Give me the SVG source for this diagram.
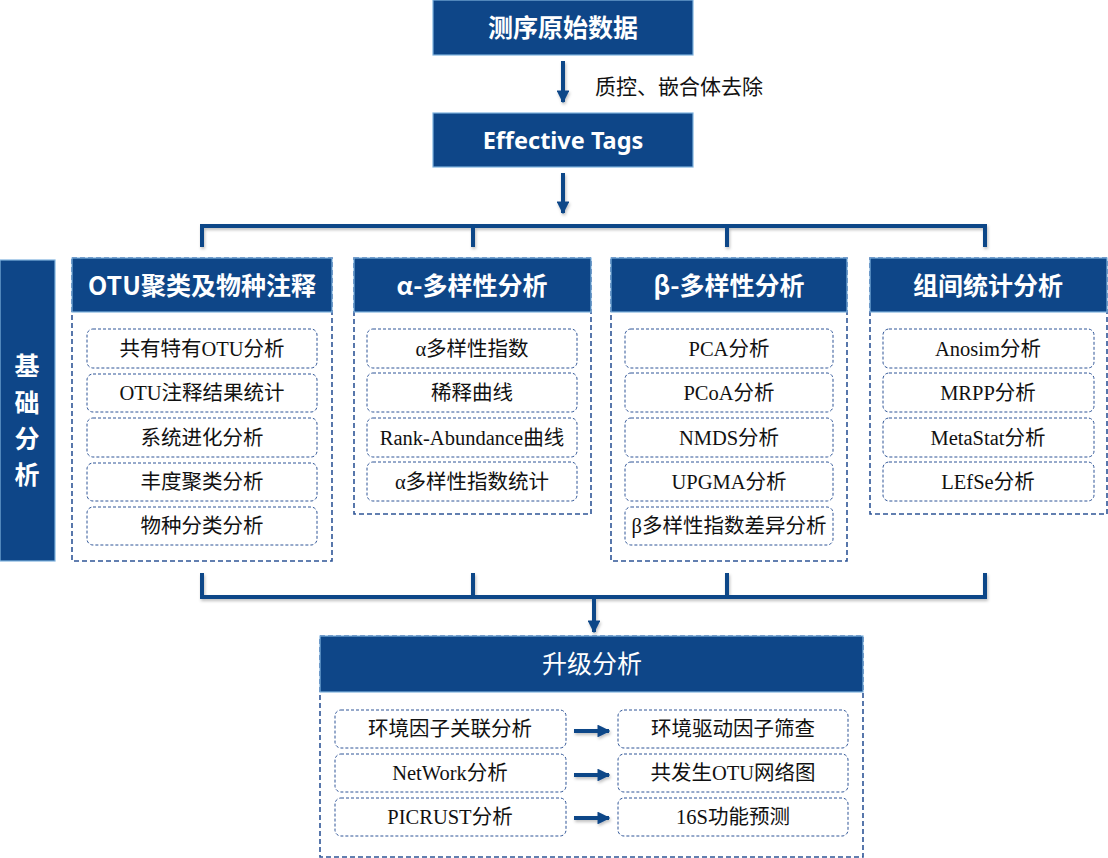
<svg xmlns="http://www.w3.org/2000/svg" width="1108" height="858" viewBox="0 0 1108 858">
<defs>
<style>
.hdr{fill:#0E4688;stroke:#7FB2DE;stroke-width:1.2}
.grp{fill:#fff;stroke:#2F5597;stroke-width:1.6;stroke-dasharray:5 3}
.item{fill:#fff;stroke:#2F5597;stroke-width:1;stroke-dasharray:3 2}
.ht{font-family:"Noto Sans CJK SC","Noto Sans",sans-serif;font-weight:700;font-size:25px;fill:#fff;text-anchor:middle}
.it{font-family:"Liberation Serif","Noto Sans CJK SC",serif;font-size:20.5px;fill:#111;text-anchor:middle}
.ln{stroke:#0E4688;stroke-width:4;fill:none}
.lbl{font-family:"Noto Sans CJK SC",sans-serif;font-size:21px;fill:#111}
</style>
<marker id="ah" viewBox="0 0 10 10" refX="9" refY="5" markerWidth="3.2" markerHeight="3.2" orient="auto" markerUnits="strokeWidth">
<path d="M0,0 L10,5 L0,10 z" fill="#0E4688"/>
</marker>
<filter id="sh" x="-5%" y="-20%" width="110%" height="160%">
<feDropShadow dx="1" dy="2" stdDeviation="1.5" flood-color="#000" flood-opacity="0.25"/>
</filter>
</defs>
<rect width="1108" height="858" fill="#fff"/>

<g id="raw">
<rect class="hdr" x="433" y="0" width="260" height="55"/>
<text class="ht" x="563" y="37">测序原始数据</text>
</g>
<g id="tags">
<rect class="hdr" x="433" y="113" width="260" height="54"/>
<text class="ht" x="563" y="149" style="font-family:'Noto Sans',sans-serif;font-size:23.5px">Effective Tags</text>
</g>

<g id="basic">
<rect class="hdr" x="0" y="260" width="55" height="301"/>
<text class="ht" x="27" y="375">基</text>
<text class="ht" x="27" y="412">础</text>
<text class="ht" x="27" y="448">分</text>
<text class="ht" x="27" y="484">析</text>
</g>

<g id="otu">
<rect class="grp" x="72" y="258" width="260" height="303"/>
<rect class="hdr" x="72" y="258" width="260" height="54"/>
<text class="ht" x="202" y="295">OTU聚类及物种注释</text>
<rect class="item" x="87" y="329" width="230" height="39" rx="6"/>
<text class="it" x="202" y="356">共有特有OTU分析</text>
<rect class="item" x="87" y="374" width="230" height="38" rx="6"/>
<text class="it" x="202" y="400">OTU注释结果统计</text>
<rect class="item" x="87" y="418" width="230" height="39" rx="6"/>
<text class="it" x="202" y="445">系统进化分析</text>
<rect class="item" x="87" y="463" width="230" height="38" rx="6"/>
<text class="it" x="202" y="489">丰度聚类分析</text>
<rect class="item" x="87" y="507" width="230" height="38" rx="6"/>
<text class="it" x="202" y="533">物种分类分析</text>
</g>

<g id="alpha">
<rect class="grp" x="354" y="258" width="237" height="256"/>
<rect class="hdr" x="354" y="258" width="237" height="54"/>
<text class="ht" x="472" y="295">α-多样性分析</text>
<rect class="item" x="367" y="329" width="210" height="39" rx="6"/>
<text class="it" x="472" y="356">α多样性指数</text>
<rect class="item" x="367" y="373" width="210" height="39" rx="6"/>
<text class="it" x="472" y="400">稀释曲线</text>
<rect class="item" x="367" y="418" width="210" height="39" rx="6"/>
<text class="it" x="472" y="445">Rank-Abundance曲线</text>
<rect class="item" x="367" y="462" width="210" height="39" rx="6"/>
<text class="it" x="472" y="489">α多样性指数统计</text>
</g>

<g id="beta">
<rect class="grp" x="611" y="258" width="236" height="303"/>
<rect class="hdr" x="611" y="258" width="236" height="54"/>
<text class="ht" x="729" y="295">β-多样性分析</text>
<rect class="item" x="625" y="329" width="208" height="39" rx="6"/>
<text class="it" x="729" y="356">PCA分析</text>
<rect class="item" x="625" y="373" width="208" height="39" rx="6"/>
<text class="it" x="729" y="400">PCoA分析</text>
<rect class="item" x="625" y="418" width="208" height="39" rx="6"/>
<text class="it" x="729" y="445">NMDS分析</text>
<rect class="item" x="625" y="462" width="208" height="39" rx="6"/>
<text class="it" x="729" y="489">UPGMA分析</text>
<rect class="item" x="625" y="507" width="208" height="38" rx="6"/>
<text class="it" x="729" y="533">β多样性指数差异分析</text>
</g>

<g id="stat">
<rect class="grp" x="870" y="258" width="237" height="256"/>
<rect class="hdr" x="870" y="258" width="237" height="54"/>
<text class="ht" x="988" y="295">组间统计分析</text>
<rect class="item" x="883" y="329" width="211" height="39" rx="6"/>
<text class="it" x="988" y="356">Anosim分析</text>
<rect class="item" x="883" y="373" width="211" height="39" rx="6"/>
<text class="it" x="988" y="400">MRPP分析</text>
<rect class="item" x="883" y="418" width="211" height="39" rx="6"/>
<text class="it" x="988" y="445">MetaStat分析</text>
<rect class="item" x="883" y="462" width="211" height="39" rx="6"/>
<text class="it" x="988" y="489">LEfSe分析</text>
</g>

<g id="upgrade">
<rect class="grp" x="320" y="636" width="543" height="221"/>
<rect class="hdr" x="320" y="636" width="543" height="56"/>
<text class="ht" x="592" y="673" style="font-weight:400">升级分析</text>
<rect class="item" x="335" y="710" width="231" height="38" rx="6"/>
<text class="it" x="450" y="736">环境因子关联分析</text>
<rect class="item" x="618" y="710" width="230" height="38" rx="6"/>
<text class="it" x="733" y="736">环境驱动因子筛查</text>
<rect class="item" x="335" y="754" width="231" height="38" rx="6"/>
<text class="it" x="450" y="780">NetWork分析</text>
<rect class="item" x="618" y="754" width="230" height="38" rx="6"/>
<text class="it" x="733" y="780">共发生OTU网络图</text>
<rect class="item" x="335" y="798" width="231" height="38" rx="6"/>
<text class="it" x="450" y="824">PICRUST分析</text>
<rect class="item" x="618" y="798" width="230" height="38" rx="6"/>
<text class="it" x="733" y="824">16S功能预测</text>
</g>

<g id="connectors" filter="url(#sh)">
<line class="ln" x1="563" y1="61" x2="563" y2="102" marker-end="url(#ah)"/>
<line class="ln" x1="563" y1="173" x2="563" y2="213" marker-end="url(#ah)"/>
<path class="ln" d="M202,247 V226 H985 V247 M473,226 V247 M727,226 V247"/>
<path class="ln" d="M202,573 V597 H985 V573 M473,573 V597 M727,573 V597"/>
<line class="ln" x1="594" y1="597" x2="594" y2="632" marker-end="url(#ah)"/>
<line class="ln" stroke-width="5" x1="574" y1="731" x2="609" y2="731" marker-end="url(#ah)"/>
<line class="ln" stroke-width="5" x1="574" y1="775" x2="609" y2="775" marker-end="url(#ah)"/>
<line class="ln" stroke-width="5" x1="574" y1="818" x2="609" y2="818" marker-end="url(#ah)"/>
</g>
<text class="lbl" x="595" y="94">质控、嵌合体去除</text>
</svg>
